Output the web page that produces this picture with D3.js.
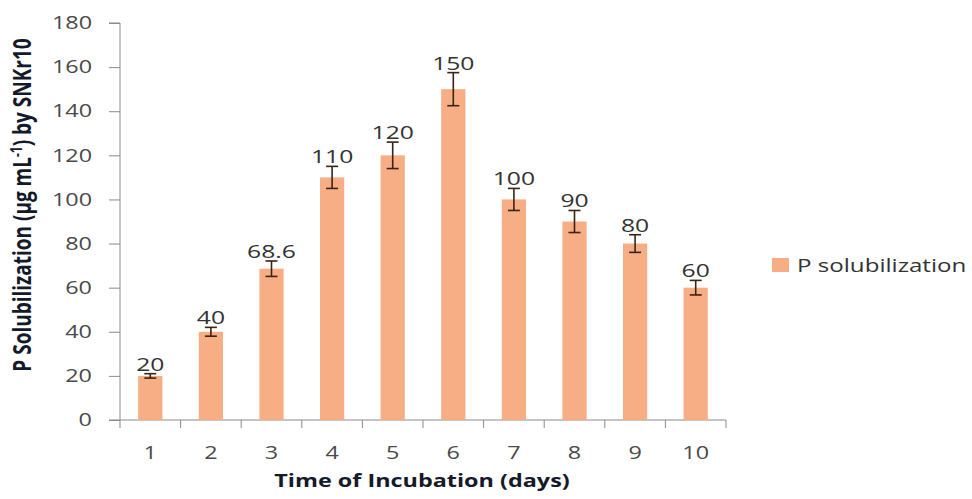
<!DOCTYPE html>
<html>
<head>
<meta charset="utf-8">
<script src="https://cdn.jsdelivr.net/npm/d3@7"></script>
<style>
  body { margin: 0; background: #fff; }
  text { font-family: "Open Sans", "DejaVu Sans", sans-serif; }
</style>
</head>
<body>
<div id="grafico"></div>
<script>
// dados do grafico
const days   = ["1", "2", "3", "4", "5", "6", "7", "8", "9", "10"];
const values = [20, 40, 68.6, 110, 120, 150, 100, 90, 80, 60];
const errors = [1, 2, 3.5, 5, 6, 7.5, 5, 5, 4, 3.3];
const labels = ["20", "40", "68.6", "110", "120", "150", "100", "90", "80", "60"];
const yTicks = [0, 20, 40, 60, 80, 100, 120, 140, 160, 180];
const seriesName = "P solubilization";

const width = 972, height = 499;
const x0 = 120, x1 = 726, y0 = 420, y1 = 23;
const sx = 1.3; // a imagem original esta esticada na horizontal

const svg = d3.select("#grafico")
              .append("svg")
              .attr("width", width)
              .attr("height", height);

const x = d3.scaleBand()
            .domain(days)
            .range([x0, x1])
            .paddingInner(0.6)
            .paddingOuter(0.3);

const y = d3.scaleLinear()
            .domain([0, 180])
            .range([y0, y1]);

// eixo y
const gy = svg.append("g")
   .attr("transform", `translate(${x0},0)`)
   .call(d3.axisLeft(y).tickValues(yTicks).tickSize(11).tickPadding(17));
gy.selectAll("text")
  .attr("font-size", "18px").attr("fill", "#4a4a4a")
  .style("font-family", "'Open Sans', sans-serif")
  .attr("transform", function () { return `translate(${+this.getAttribute("x")},0) scale(${sx},1)`; })
  .attr("x", 0);
gy.selectAll("line, path").attr("stroke", "#8a8a8a");
gy.select(".domain").attr("d", `M-11,${y0}H0V${y1}H-11`);

// eixo x - ticks nas fronteiras das categorias
const step = (x1 - x0) / days.length;
const gx = svg.append("g").attr("transform", `translate(0,${y0})`);
gx.append("line").attr("x1", x0).attr("x2", x1).attr("stroke", "#8a8a8a");
gx.selectAll(".tk")
  .data(d3.range(days.length + 1))
  .enter().append("line")
  .attr("x1", i => x0 + i * step).attr("x2", i => x0 + i * step)
  .attr("y1", 0).attr("y2", 8)
  .attr("stroke", "#8a8a8a");
gx.selectAll(".lbl")
  .data(days)
  .enter().append("text")
  .attr("transform", d => `translate(${x(d) + x.bandwidth() / 2},39) scale(${sx},1)`)
  .attr("text-anchor", "middle")
  .attr("font-size", "18px")
  .attr("fill", "#4a4a4a")
  .text(d => d);

// barras
svg.selectAll(".bar")
   .data(values)
   .enter().append("rect")
   .attr("x", (d, i) => x(days[i]))
   .attr("y", d => y(d))
   .attr("width", x.bandwidth())
   .attr("height", d => y(0) - y(d))
   .attr("fill", "#F7AE84");

// barras de erro
const eb = svg.selectAll(".err")
   .data(values)
   .enter().append("g")
   .attr("stroke", "#3a2418")
   .attr("stroke-width", 1.6);
eb.append("line")
  .attr("x1", (d, i) => x(days[i]) + x.bandwidth() / 2)
  .attr("x2", (d, i) => x(days[i]) + x.bandwidth() / 2)
  .attr("y1", (d, i) => y(d + errors[i]))
  .attr("y2", (d, i) => y(d - errors[i]));
eb.append("line")
  .attr("x1", (d, i) => x(days[i]) + x.bandwidth() / 2 - 6)
  .attr("x2", (d, i) => x(days[i]) + x.bandwidth() / 2 + 6)
  .attr("y1", (d, i) => y(d + errors[i]))
  .attr("y2", (d, i) => y(d + errors[i]));
eb.append("line")
  .attr("x1", (d, i) => x(days[i]) + x.bandwidth() / 2 - 6)
  .attr("x2", (d, i) => x(days[i]) + x.bandwidth() / 2 + 6)
  .attr("y1", (d, i) => y(d - errors[i]))
  .attr("y2", (d, i) => y(d - errors[i]));

// rotulos de dados
svg.selectAll(".val")
   .data(values)
   .enter().append("text")
   .attr("transform", (d, i) => `translate(${x(days[i]) + x.bandwidth() / 2},${y(d + errors[i]) - 3}) scale(${sx},1)`)
   .attr("text-anchor", "middle")
   .attr("font-size", "19px")
   .attr("fill", "#333")
   .text((d, i) => labels[i]);

// label do eixo x
svg.append("text")
   .attr("transform", `translate(422,487) scale(${sx},1)`)
   .attr("text-anchor", "middle")
   .attr("font-size", "18px")
   .attr("font-weight", "bold")
   .attr("fill", "#141a2a")
   .text("Time of Incubation (days)");

// label do eixo y
const yl = svg.append("text")
   .attr("transform", `translate(31,205) rotate(-90) scale(1,${sx})`)
   .attr("text-anchor", "middle")
   .attr("font-size", "19px")
   .attr("font-weight", "bold")
   .attr("fill", "#141a2a");
yl.append("tspan").text("P Solubilization (µg mL");
yl.append("tspan").attr("dy", -7).attr("font-size", "12px").text("-1");
yl.append("tspan").attr("dy", 7).text(") by SNKr10");

// legenda
svg.append("rect")
   .attr("x", 772).attr("y", 258)
   .attr("width", 17).attr("height", 14)
   .attr("fill", "#F7AE84");
svg.append("text")
   .attr("transform", `translate(797,272) scale(1.27,1)`)
   .attr("font-size", "19px")
   .attr("fill", "#333")
   .text(seriesName);
</script>
</body>
</html>
